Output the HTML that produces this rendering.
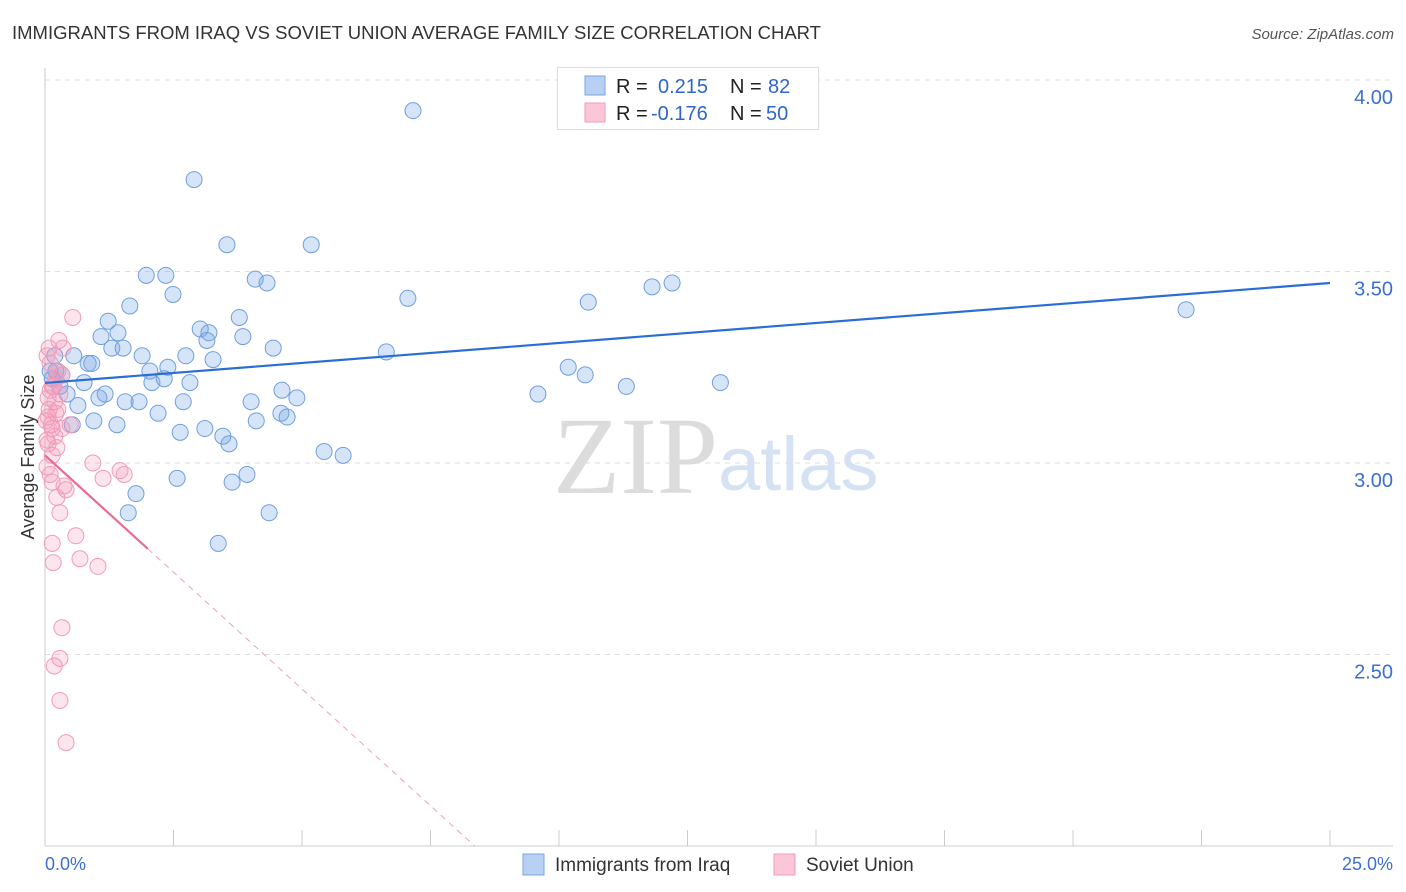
<!DOCTYPE html>
<html><head><meta charset="utf-8"><style>
body{margin:0;background:#fff;font-family:"Liberation Sans",sans-serif;}
svg{display:block}
</style></head><body>
<svg id="chart" width="1406" height="892" xmlns="http://www.w3.org/2000/svg">
<text x="12" y="39" font-size="18.5" fill="#333">IMMIGRANTS FROM IRAQ VS SOVIET UNION AVERAGE FAMILY SIZE CORRELATION CHART</text>
<text x="1394" y="39" font-size="15" fill="#555" font-style="italic" text-anchor="end">Source: ZipAtlas.com</text>
<g>
<text x="553" y="493" font-size="110" font-family="Liberation Serif,serif" fill="#dcdcdc">ZIP</text>
<text x="718" y="490" font-size="76" fill="#d4e2f4">atlas</text>
</g>
<g id="grid"></g>
<g id="axes"></g>
<g id="marks"></g>
<g>
<rect x="557.5" y="67.5" width="261" height="62" fill="#fff" stroke="#ddd"/>
<rect x="585" y="76" width="20" height="19" fill="#b7d0f4" stroke="#7aa6e0"/>
<rect x="585" y="103" width="20" height="19" fill="#fbc6d6" stroke="#f19bb8"/>
<text x="616" y="93" font-size="20" fill="#222">R = <tspan fill="#2f66cc" x="658">0.215</tspan><tspan x="730" fill="#222">N = </tspan><tspan x="768" fill="#2f66cc">82</tspan></text>
<text x="616" y="120" font-size="20" fill="#222">R = <tspan fill="#2f66cc" x="651">-0.176</tspan><tspan x="730" fill="#222">N = </tspan><tspan x="766" fill="#2f66cc">50</tspan></text>
</g>
<g>
<rect x="523" y="854" width="21" height="21" fill="#b7d0f4" stroke="#7aa6e0"/>
<text x="555" y="871" font-size="19" fill="#333">Immigrants from Iraq</text>
<rect x="774" y="854" width="21" height="21" fill="#fbc6d6" stroke="#f19bb8"/>
<text x="806" y="871" font-size="19" fill="#333">Soviet Union</text>
</g>
<text transform="translate(34,457) rotate(-90)" font-size="18" fill="#333" text-anchor="middle">Average Family Size</text>
</svg>
<script>
const yTicks=[2.5,3.0,3.5,4.0];
const yTickLabels=["2.50","3.00","3.50","4.00"];
const xTickLabels=["0.0%","25.0%"];
const iraqX=[7.16,2.90,3.54,5.18,1.97,2.35,4.09,4.32,2.49,7.06,10.57,11.81,12.20,22.20,1.65,3.78,1.23,1.09,1.42,3.02,3.19,3.85,3.15,1.30,1.52,4.44,0.56,1.89,2.74,3.27,6.64,0.84,0.91,2.39,2.04,10.18,10.51,13.14,0.21,0.29,0.76,2.08,2.32,2.82,4.61,11.31,9.59,1.17,1.05,0.43,1.56,1.83,2.69,4.01,4.90,0.64,2.20,0.95,4.11,4.59,4.71,1.40,0.53,2.63,3.11,3.46,3.58,5.43,5.80,2.57,3.93,3.64,1.77,1.62,4.36,3.37,0.10,0.14,0.33,0.19];
const iraqY=[3.92,3.74,3.57,3.57,3.49,3.49,3.48,3.47,3.44,3.43,3.42,3.46,3.47,3.40,3.41,3.38,3.37,3.33,3.34,3.35,3.34,3.33,3.32,3.30,3.30,3.30,3.28,3.28,3.28,3.27,3.29,3.26,3.26,3.25,3.24,3.25,3.23,3.21,3.24,3.20,3.21,3.21,3.22,3.21,3.19,3.20,3.18,3.18,3.17,3.18,3.16,3.16,3.16,3.16,3.17,3.15,3.13,3.11,3.11,3.13,3.12,3.10,3.10,3.08,3.09,3.07,3.05,3.03,3.02,2.96,2.97,2.95,2.92,2.87,2.87,2.79,3.24,3.22,3.23,3.28];
const sovietX=[0.54,0.27,0.35,0.04,0.10,0.33,0.21,0.14,0.29,0.06,0.19,0.25,0.06,0.49,0.14,0.19,0.06,0.23,0.14,0.93,0.04,1.46,1.54,1.13,0.14,0.37,0.41,0.23,0.29,0.60,0.14,0.68,0.16,1.03,0.33,0.29,0.18,0.29,0.41,0.04,0.10,0.08,0.33,0.21,0.10,0.02,0.12,0.25,0.08,0.17];
const sovietY=[3.38,3.32,3.30,3.28,3.26,3.23,3.22,3.20,3.18,3.17,3.16,3.14,3.12,3.10,3.09,3.07,3.05,3.04,3.02,3.00,2.99,2.98,2.97,2.96,2.95,2.94,2.93,2.91,2.87,2.81,2.79,2.75,2.74,2.73,2.57,2.49,2.47,2.38,2.27,3.06,2.97,3.14,3.09,3.13,3.19,3.11,3.10,3.24,3.30,3.20];
const iraqTrend=[3.209,3.47];
const sovietTrend=[3.02,-0.122];
const sovietSolidEnd=2.0;

const NS="http://www.w3.org/2000/svg";
const X=v=>45+v/25*1285;
const Y=v=>463-(v-3)*383;
function mk(parent,tag,attrs){const e=document.createElementNS(NS,tag);for(const k in attrs)e.setAttribute(k,attrs[k]);document.getElementById(parent).appendChild(e);return e;}

let l=mk('axes','line',{x1:45,y1:68,x2:45,y2:846,stroke:'#ccc'});


l=mk('axes','line',{x1:45,y1:846,x2:1393,y2:846,stroke:'#ccc'});


for(let i=0;i<=10;i++){const t=mk('axes','line',{x1:X(i*2.5),y1:830,x2:X(i*2.5),y2:846,stroke:'#ccc'});

}
yTicks.forEach((v,i)=>{
 const g=mk('grid','line',{x1:45,y1:Y(v),x2:1393,y2:Y(v),stroke:'#ddd','stroke-dasharray':'5,5'});
 
 
 const t=mk('axes','text',{x:1393,y:Y(v)+24,'font-size':20,fill:'#3b6fd4','text-anchor':'end'});
 t.textContent=yTickLabels[i];
 
 
});
let xt=mk('axes','text',{x:45,y:870,'font-size':18,fill:'#3b6fd4'});xt.textContent=xTickLabels[0];


xt=mk('axes','text',{x:1393,y:870,'font-size':18,fill:'#3b6fd4','text-anchor':'end'});xt.textContent=xTickLabels[1];



iraqX.forEach((x,i)=>{const c=mk('marks','circle',{cx:X(x),cy:Y(iraqY[i]),r:8,fill:'rgba(120,165,230,0.3)',stroke:'#6f9fe0','stroke-width':1});

});
sovietX.forEach((x,i)=>{const c=mk('marks','circle',{cx:X(x),cy:Y(sovietY[i]),r:8,fill:'rgba(245,150,185,0.25)',stroke:'#f19bb8','stroke-width':1});

});

let tr=mk('marks','line',{x1:X(0),y1:Y(iraqTrend[0]),x2:X(25),y2:Y(iraqTrend[1]),stroke:'#2a6dd6','stroke-width':2.2});


const sy=x=>sovietTrend[0]+sovietTrend[1]*x;
const xEnd=(2.0-sovietTrend[0])/sovietTrend[1];
tr=mk('marks','line',{x1:X(0),y1:Y(sy(0)),x2:X(sovietSolidEnd),y2:Y(sy(sovietSolidEnd)),stroke:'#ec6a98','stroke-width':2.2});


tr=mk('marks','line',{x1:X(sovietSolidEnd),y1:Y(sy(sovietSolidEnd)),x2:X(xEnd),y2:Y(2.0),stroke:'#f0a0bc','stroke-width':1,'stroke-dasharray':'6,5'});


</script>
</body></html>
